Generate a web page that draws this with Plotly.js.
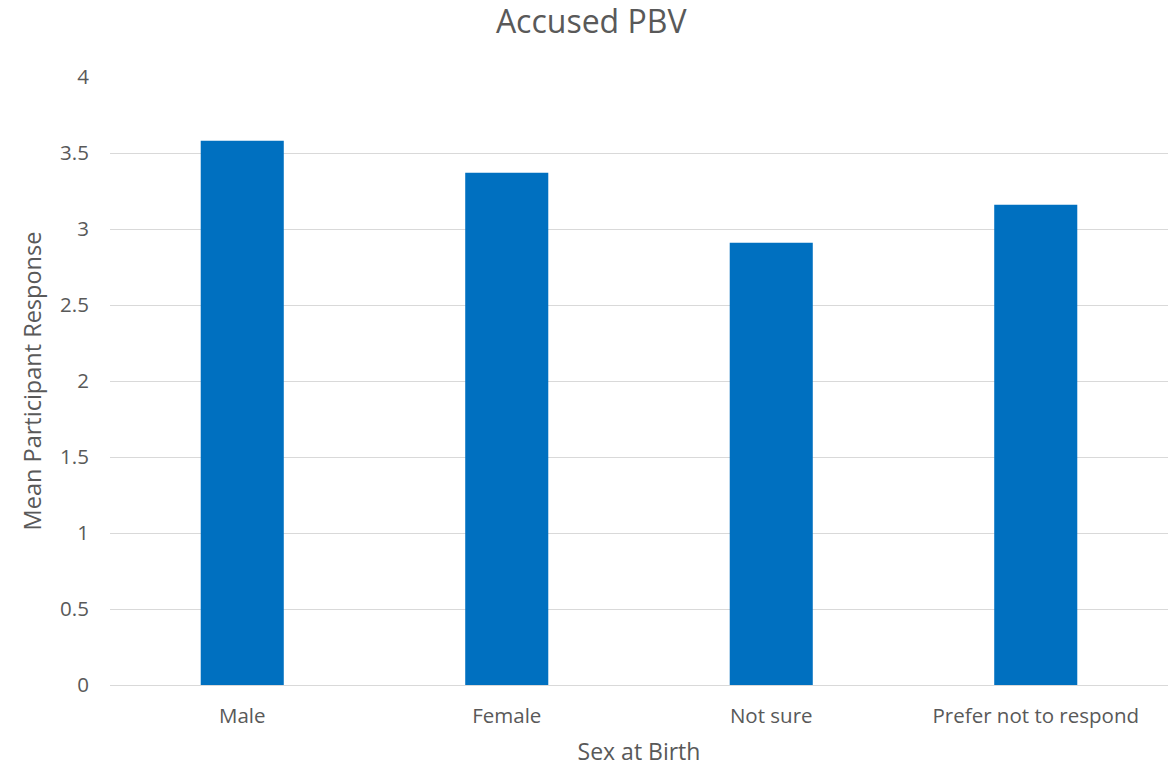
<!DOCTYPE html>
<html><head><meta charset="utf-8">
<script src="https://cdn.plot.ly/plotly-3.0.1.min.js"></script>
<style>html,body{margin:0;padding:0;background:#fff}#chart{width:1173px;height:767px}</style>
</head><body><div id="chart"></div>
<script>
const categories = ["Male", "Female", "Not sure", "Prefer not to respond"];
const meanResponse = [3.58, 3.37, 2.91, 3.16];
const yTicks = [0, 0.5, 1, 1.5, 2, 2.5, 3, 3.5, 4];
const yTickLabels = ["0", "0.5", "1", "1.5", "2", "2.5", "3", "3.5", "4"];

const font = "'Open Sans', sans-serif";
Plotly.newPlot("chart", [{
  type: "bar", x: categories, y: meanResponse,
  marker: {color: "#0070C0"}, hoverinfo: "x+y"
}], {
  width: 1173, height: 767,
  margin: {l: 110, r: 5, t: 77, b: 82},
  paper_bgcolor: "#fff", plot_bgcolor: "#fff",
  bargap: 0.686,
  showlegend: false,
  title: {text: "Accused PBV", x: 0.504, xanchor: "center", y: 0.971, yanchor: "middle",
          font: {family: font, size: 32, color: "#595959"}},
  xaxis: {
    title: {text: "Sex at Birth", font: {family: font, size: 23, color: "#595959"}, standoff: 19},
    tickfont: {family: font, size: 20.5, color: "#595959"},
    showline: true, linecolor: "#d9d9d9", linewidth: 1,
    ticks: "outside", ticklen: 12, tickcolor: "rgba(0,0,0,0)",
    showgrid: false, automargin: false
  },
  yaxis: {
    title: {text: "Mean Participant Response", font: {family: font, size: 23.5, color: "#595959"}, standoff: 11},
    range: [0, 4], tickvals: yTicks, ticktext: yTickLabels,
    tickfont: {family: font, size: 20.5, color: "#595959"},
    showgrid: true, gridcolor: "#d9d9d9", gridwidth: 1,
    zeroline: false, ticks: "outside", ticklen: 16, tickcolor: "rgba(0,0,0,0)",
    automargin: false
  }
}, {displayModeBar: false, staticPlot: true});
</script></body></html>
